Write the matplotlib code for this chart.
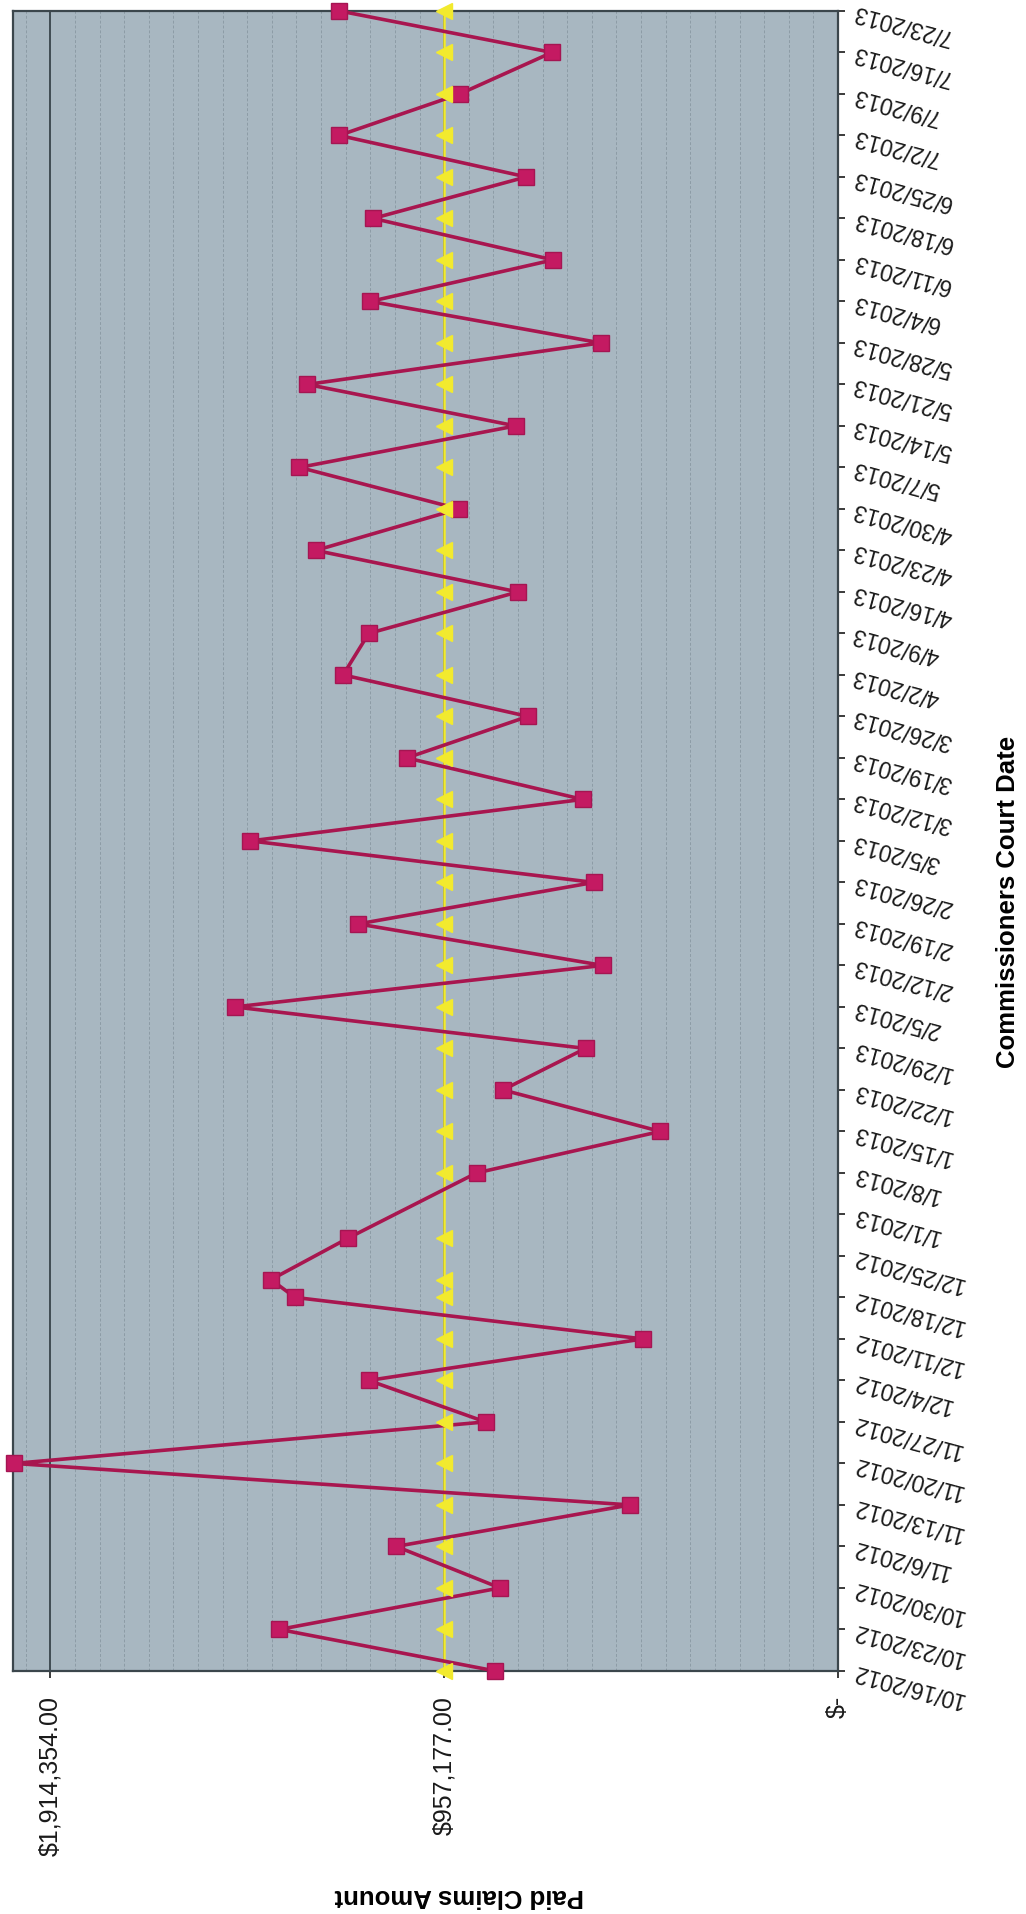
import matplotlib
matplotlib.use("Agg")
import matplotlib.pyplot as plt
from matplotlib.ticker import MultipleLocator
import pandas as pd

# scanned chart sits on its side: dates run up the right edge, amounts grow to the left
court_dates = ['10/16/2012', '10/23/2012', '10/30/2012', '11/6/2012', '11/13/2012', '11/20/2012',
               '11/27/2012', '12/4/2012', '12/11/2012', '12/18/2012', '12/21/2012', '12/28/2012',
               '1/8/2013', '1/15/2013', '1/22/2013', '1/29/2013', '2/5/2013', '2/12/2013',
               '2/19/2013', '2/26/2013', '3/5/2013', '3/12/2013', '3/19/2013', '3/26/2013',
               '4/2/2013', '4/9/2013', '4/16/2013', '4/23/2013', '4/30/2013', '5/7/2013',
               '5/14/2013', '5/21/2013', '5/28/2013', '6/4/2013', '6/11/2013', '6/18/2013',
               '6/25/2013', '7/2/2013', '7/9/2013', '7/16/2013', '7/23/2013']
paid_claims = [833600, 1357700, 821400, 1073900, 505100, 2002000, 856700, 1140500, 473800,
               1319700, 1378100, 1190700, 878400, 431800, 814600, 613700, 1466300, 571600,
               1166300, 593300, 1428300, 620500, 1048100, 753500, 1202900, 1140500, 778000,
               1269400, 921900, 1308800, 783400, 1289800, 577000, 1136400, 692400, 1129600,
               757600, 1212400, 919200, 695100, 1212400]
average_paid = 957177
value_ticks = [0, 957177, 1914354]
value_labels = ['$-', '$957,177.00', '$1,914,354.00']

plt.rcParams['font.family'] = ['Liberation Sans', 'DejaVu Sans']

fig = plt.figure(figsize=(10.26, 19.14), dpi=100)
ax = fig.add_axes([0.0127, 0.1270, 0.8041, 0.8673])
ax.set_facecolor('#a8b7c1')

dates = pd.to_datetime(court_dates, format='%m/%d/%Y')

ax.plot([average_paid] * len(dates), dates, color='#f2ea2e', lw=1.8, zorder=3, clip_on=False)
ax.plot(paid_claims, dates, color='#a8164f', lw=2.6, marker='s', ms=12,
        mfc='#c41a62', mec='#a51552', zorder=4, clip_on=False)
ax.plot([average_paid] * len(dates), dates, ls='none', marker='<', ms=11,
        color='#f2ea2e', zorder=5, clip_on=False)

ax.set_xlim(2005000, 0)
ax.set_ylim(dates[0], dates[-1])

week_ticks = pd.date_range(dates[0], dates[-1], freq='7D')
ax.set_yticks(week_ticks)
ax.set_yticklabels([f'{d.month}/{d.day}/{d.year}' for d in week_ticks])
ax.set_xticks(value_ticks)
ax.set_xticklabels(value_labels)

ax.xaxis.set_minor_locator(MultipleLocator(957177 / 16))
ax.set_axisbelow(True)
ax.grid(axis='x', which='minor', color='#8d9ca6', lw=0.7, ls=(0, (3, 2)))
ax.grid(axis='x', which='major', color='#2e3a40', lw=1.2)

ax.tick_params(axis='x', which='minor', length=0)
ax.tick_params(axis='x', which='major', direction='out', length=5, width=1.2, pad=13,
               labelsize=18, labelrotation=90, colors='#1a1a1a')
ax.tick_params(axis='y', left=False, right=True, labelleft=False, labelright=True,
               direction='out', length=5, width=1.2, pad=6, labelsize=16.5,
               labelrotation=165, colors='#1a1a1a')
plt.setp(ax.get_yticklabels(), ha='right', va='center', rotation_mode='anchor')

for sp in ax.spines.values():
    sp.set_color('#3b464c')
    sp.set_linewidth(1.6)

fig.text(1008 / 1026, 1 - 902 / 1914, 'Commissioners Court Date', rotation=90,
         ha='center', va='center', fontsize=18.5, fontweight='bold')
fig.text(459 / 1026, 1 - 1896 / 1914, 'Paid Claims Amount', rotation=180,
         ha='center', va='center', fontsize=18.5, fontweight='bold')

fig.savefig('out.png', dpi=100)
